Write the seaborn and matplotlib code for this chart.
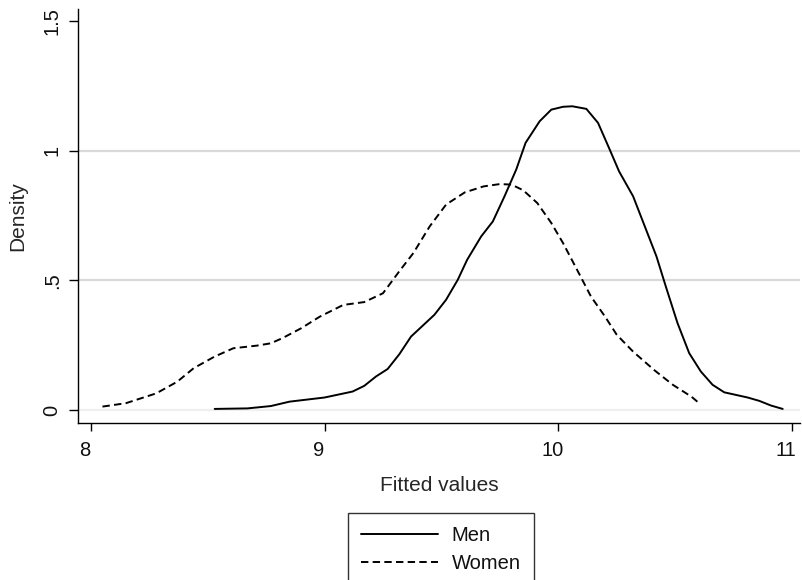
import matplotlib
matplotlib.use("Agg")
import matplotlib.pyplot as plt
import matplotlib.transforms as mtransforms
import pandas as pd
import seaborn as sns

# Kernel density of fitted values
men_x = [8.53, 8.67, 8.77, 8.85, 9.00, 9.12, 9.17, 9.22, 9.27, 9.32, 9.37, 9.47,
         9.52, 9.57, 9.61, 9.67, 9.72, 9.77, 9.82, 9.86, 9.92, 9.97, 10.02, 10.06,
         10.12, 10.17, 10.22, 10.26, 10.32, 10.37, 10.42, 10.46, 10.51, 10.56,
         10.61, 10.66, 10.71, 10.81, 10.86, 10.91, 10.96]
men_y = [0.004, 0.006, 0.015, 0.032, 0.048, 0.071, 0.093, 0.129, 0.158, 0.215,
         0.283, 0.367, 0.425, 0.502, 0.579, 0.669, 0.727, 0.824, 0.927, 1.030,
         1.113, 1.158, 1.169, 1.171, 1.161, 1.107, 1.004, 0.920, 0.824, 0.708,
         0.592, 0.476, 0.335, 0.219, 0.148, 0.097, 0.068, 0.048, 0.035, 0.017,
         0.004]

women_x = [8.05, 8.15, 8.28, 8.37, 8.44, 8.53, 8.61, 8.71, 8.77, 8.82, 8.90,
           8.98, 9.08, 9.17, 9.25, 9.32, 9.38, 9.45, 9.52, 9.60, 9.68, 9.75,
           9.80, 9.85, 9.91, 9.97, 10.02, 10.08, 10.14, 10.20, 10.25, 10.32,
           10.41, 10.49, 10.57, 10.60]
women_y = [0.013, 0.026, 0.064, 0.109, 0.161, 0.206, 0.238, 0.248, 0.257, 0.277,
           0.315, 0.360, 0.405, 0.416, 0.450, 0.535, 0.605, 0.708, 0.792, 0.839,
           0.862, 0.871, 0.869, 0.847, 0.798, 0.721, 0.644, 0.541, 0.437, 0.360,
           0.290, 0.225, 0.154, 0.097, 0.051, 0.028]

x_ticks = [8, 9, 10, 11]
y_ticks = [0, 0.5, 1, 1.5]
y_tick_labels = ["0", ".5", "1", "1.5"]

sns.set_style("white")
plt.rcParams["font.family"] = ["Liberation Sans", "DejaVu Sans"]
plt.rcParams["text.color"] = "#111111"

men = pd.DataFrame({"fitted": men_x, "density": men_y})
women = pd.DataFrame({"fitted": women_x, "density": women_y})

fig = plt.figure(figsize=(8.02, 5.80), dpi=100)
ax = fig.add_axes([0.0969, 0.2702, 0.9006, 0.7138])

# light horizontal grid like Stata
for yv, c in [(0, "#efefef"), (0.5, "#d9d9d9"), (1, "#d9d9d9")]:
    ax.axhline(yv, color=c, lw=1.6, zorder=0)

sns.lineplot(data=men, x="fitted", y="density", ax=ax, color="black",
             lw=1.4, label="Men", sort=False)
sns.lineplot(data=women, x="fitted", y="density", ax=ax, color="black",
             lw=1.4, label="Women", sort=False)
ax.lines[-1].set_dashes((3.8, 2.2))

ax.set_xlim(7.944, 11.034)
ax.set_ylim(-0.0514, 1.545)
ax.set_xticks(x_ticks)
ax.set_xticklabels([str(t) for t in x_ticks], fontsize=14.5)
ax.set_yticks(y_ticks)
ax.set_yticklabels(y_tick_labels, fontsize=14.5, rotation=90, va="center")
ax.tick_params(axis="x", direction="out", length=5.5, width=1, color="black",
               bottom=True, pad=7, labelcolor="#111111")
ax.tick_params(axis="y", direction="out", length=6.5, width=1, color="black",
               left=True, pad=5, labelcolor="#111111")
# Stata nudges the x tick labels a little to the left
shift = mtransforms.ScaledTranslation(-6 / 100, 0, fig.dpi_scale_trans)
for lab in ax.get_xticklabels():
    lab.set_transform(lab.get_transform() + shift)

ax.set_xlabel("Fitted values", fontsize=15, labelpad=11.5)
ax.set_ylabel("Density", fontsize=15, labelpad=11.5)

for side in ["top", "right"]:
    ax.spines[side].set_visible(False)
for side in ["left", "bottom"]:
    ax.spines[side].set_color("black")
    ax.spines[side].set_linewidth(1)

handles, labels = ax.get_legend_handles_labels()
ax.get_legend().remove()
leg = fig.legend(handles, labels, loc="upper center",
                 bbox_to_anchor=(441 / 802, 1 - 513 / 580),
                 fontsize=14.5, frameon=True, fancybox=False, edgecolor="black",
                 handlelength=3.8, handletextpad=0.7, borderpad=0.65,
                 labelspacing=0.45, borderaxespad=0)
leg.get_frame().set_linewidth(1)

fig.savefig("out.png", dpi=100)
